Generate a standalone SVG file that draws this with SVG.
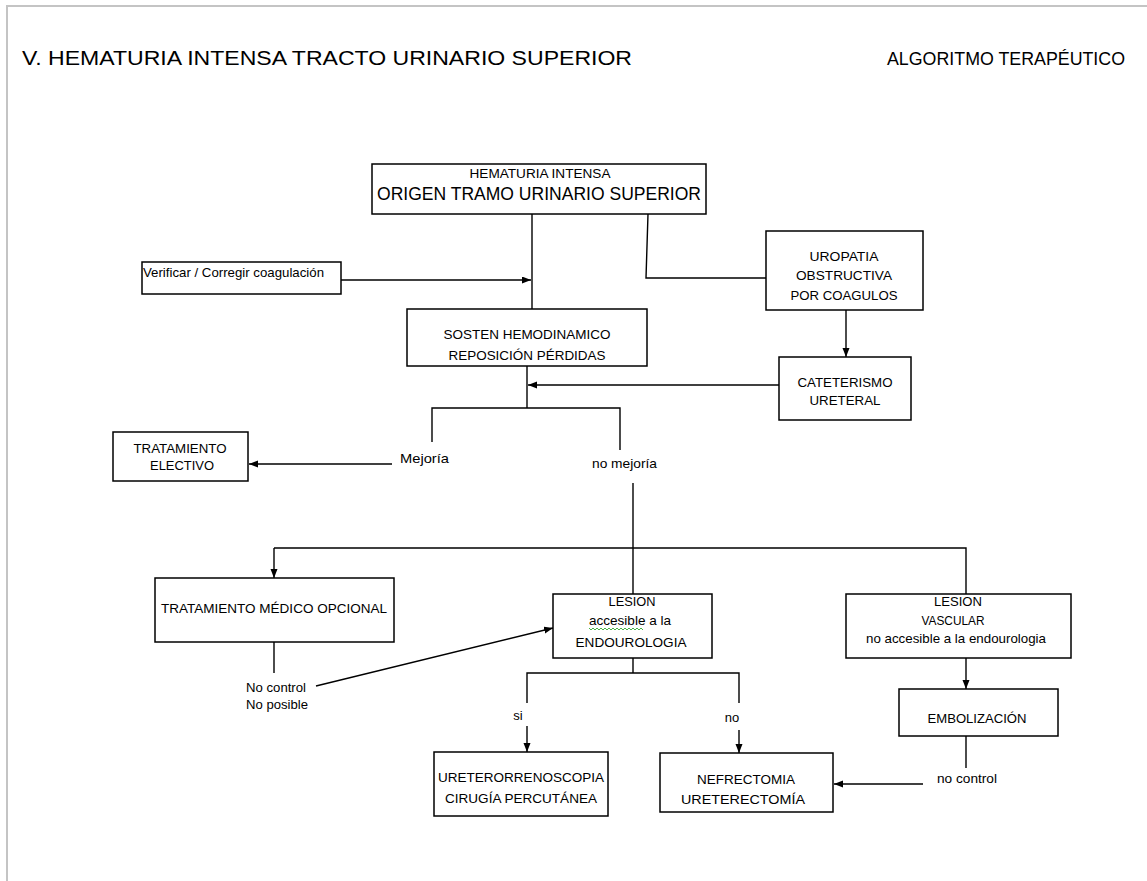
<svg xmlns="http://www.w3.org/2000/svg" width="1147" height="881" viewBox="0 0 1147 881">
<defs>
<marker id="ah" markerUnits="userSpaceOnUse" markerWidth="10" markerHeight="8" refX="9" refY="3.5" orient="auto"><path d="M0,0 L9,3.5 L0,7 z" fill="#000"/></marker>
<style>
.box{fill:#fff;stroke:#000;stroke-width:1.5}
.t{font-family:"Liberation Sans",Arial,sans-serif;font-size:13px;fill:#000}
.c{text-anchor:middle}
.ln{fill:none;stroke:#000;stroke-width:1.4}
.ar{fill:none;stroke:#000;stroke-width:1.4;marker-end:url(#ah)}
.hd{font-family:"Liberation Sans",Arial,sans-serif;font-size:20px;fill:#000}
</style>
</defs>
<rect width="1147" height="881" fill="#fff"/>
<g id="page-border"><path d="M7,881 L7,6 L1147,6" fill="none" stroke="#c4c4c4" stroke-width="2"/></g>
<g id="titles">
<text class="hd" x="22" y="65" textLength="610" lengthAdjust="spacingAndGlyphs">V. HEMATURIA INTENSA TRACTO URINARIO SUPERIOR</text>
<text class="hd" x="887" y="65" style="font-size:18px" textLength="238" lengthAdjust="spacingAndGlyphs">ALGORITMO TERAPÉUTICO</text>
</g>
<g id="connectors">
<path class="ln" d="M532,214 L532,309"/>
<path class="ar" d="M341,280 L531,280"/>
<path class="ln" d="M648,214 L646,278 L766,278"/>
<path class="ar" d="M846,310 L846,357"/>
<path class="ar" d="M779,385 L528,385"/>
<path class="ln" d="M527,366 L527,408"/>
<path class="ln" d="M432,442 L432,408 L620,408 L620,450"/>
<path class="ar" d="M392,464 L249,464"/>
<path class="ln" d="M633,483 L633,594"/>
<path class="ln" d="M966,594 L966,548 L274,548"/>
<path class="ar" d="M274,548 L274,578"/>
<path class="ln" d="M274,642 L274,673"/>
<path class="ar" d="M316,686 L553,628"/>
<path class="ln" d="M633,658 L633,673"/>
<path class="ln" d="M527,703 L527,673 L739,673 L739,703"/>
<path class="ar" d="M527,726 L527,752"/>
<path class="ar" d="M739,730 L739,753"/>
<path class="ar" d="M966,658 L966,689"/>
<path class="ln" d="M966,736 L966,768"/>
<path class="ar" d="M923,784 L834,784"/>
</g>
<g id="n-hematuria">
<rect class="box" x="372" y="164" width="334" height="50"/>
<text class="t c" x="540" y="178" style="font-size:12px" textLength="141" lengthAdjust="spacingAndGlyphs">HEMATURIA INTENSA</text>
<text class="t c" x="539" y="199.5" style="font-size:18px" textLength="324" lengthAdjust="spacingAndGlyphs">ORIGEN TRAMO URINARIO SUPERIOR</text>
</g>
<g id="n-verificar">
<rect class="box" x="142" y="262" width="199" height="32"/>
<text class="t" x="143" y="277" textLength="181" lengthAdjust="spacingAndGlyphs">Verificar / Corregir coagulación</text>
</g>
<g id="n-sosten">
<rect class="box" x="407" y="309" width="240" height="57"/>
<text class="t c" x="527" y="339" textLength="167" lengthAdjust="spacingAndGlyphs">SOSTEN HEMODINAMICO</text>
<text class="t c" x="527" y="360" textLength="157" lengthAdjust="spacingAndGlyphs">REPOSICIÓN PÉRDIDAS</text>
</g>
<g id="n-uropatia">
<rect class="box" x="766" y="231" width="157" height="79"/>
<text class="t c" x="844" y="261" textLength="69" lengthAdjust="spacingAndGlyphs">UROPATIA</text>
<text class="t c" x="844" y="280" textLength="96" lengthAdjust="spacingAndGlyphs">OBSTRUCTIVA</text>
<text class="t c" x="844" y="300" textLength="107" lengthAdjust="spacingAndGlyphs">POR COAGULOS</text>
</g>
<g id="n-cateterismo">
<rect class="box" x="779" y="357" width="132" height="63"/>
<text class="t c" x="845" y="387" textLength="95" lengthAdjust="spacingAndGlyphs">CATETERISMO</text>
<text class="t c" x="845" y="405" textLength="71" lengthAdjust="spacingAndGlyphs">URETERAL</text>
</g>
<g id="n-electivo">
<rect class="box" x="113" y="432" width="135" height="49"/>
<text class="t c" x="180" y="452.5" textLength="93" lengthAdjust="spacingAndGlyphs">TRATAMIENTO</text>
<text class="t c" x="182" y="470" textLength="64" lengthAdjust="spacingAndGlyphs">ELECTIVO</text>
</g>
<g id="labels">
<text class="t" x="400" y="463" textLength="49" lengthAdjust="spacingAndGlyphs">Mejoría</text>
<text class="t" x="592" y="467.5" textLength="65" lengthAdjust="spacingAndGlyphs">no mejoría</text>
<text class="t" x="246" y="691.5" textLength="60" lengthAdjust="spacingAndGlyphs">No control</text>
<text class="t" x="246" y="708.5" textLength="62" lengthAdjust="spacingAndGlyphs">No posible</text>
<text class="t c" x="518" y="719.5">si</text>
<text class="t c" x="732" y="721.5">no</text>
<text class="t c" x="967" y="782.5" textLength="60" lengthAdjust="spacingAndGlyphs">no control</text>
</g>
<g id="n-medico">
<rect class="box" x="155" y="578" width="239" height="64"/>
<text class="t c" x="274" y="612.5" textLength="226" lengthAdjust="spacingAndGlyphs">TRATAMIENTO MÉDICO OPCIONAL</text>
</g>
<g id="n-lesion">
<rect class="box" x="553" y="594" width="159" height="64"/>
<text class="t c" x="632" y="606" textLength="47" lengthAdjust="spacingAndGlyphs">LESION</text>
<text class="t c" x="630" y="625" textLength="82" lengthAdjust="spacingAndGlyphs">accesible a la</text>
<path d="M589,628 l2,2 l2,-2 l2,2 l2,-2 l2,2 l2,-2 l2,2 l2,-2 l2,2 l2,-2 l2,2 l2,-2 l2,2 l2,-2 l2,2 l2,-2 l2,2 l2,-2 l2,2 l2,-2 l2,2 l2,-2 l2,2 l2,-2 l2,2 l2,-2 l2,2" fill="none" stroke="#3a3" stroke-width="0.9"/>
<text class="t c" x="631" y="646.5" textLength="111" lengthAdjust="spacingAndGlyphs">ENDOUROLOGIA</text>
</g>
<g id="n-vascular">
<rect class="box" x="846" y="594" width="225" height="64"/>
<text class="t c" x="958" y="606" textLength="48" lengthAdjust="spacingAndGlyphs">LESION</text>
<text class="t c" x="953" y="624.5" textLength="63" lengthAdjust="spacingAndGlyphs">VASCULAR</text>
<text class="t c" x="956" y="642.5" textLength="180" lengthAdjust="spacingAndGlyphs">no accesible a la endourologia</text>
</g>
<g id="n-embolizacion">
<rect class="box" x="899" y="689" width="159" height="47"/>
<text class="t c" x="977" y="722.5" textLength="99" lengthAdjust="spacingAndGlyphs">EMBOLIZACIÓN</text>
</g>
<g id="n-ureteroscopia">
<rect class="box" x="434" y="752" width="174" height="64"/>
<text class="t c" x="521" y="781.5" textLength="166" lengthAdjust="spacingAndGlyphs">URETERORRENOSCOPIA</text>
<text class="t c" x="521" y="802.5" textLength="152" lengthAdjust="spacingAndGlyphs">CIRUGÍA PERCUTÁNEA</text>
</g>
<g id="n-nefrectomia">
<rect class="box" x="660" y="753" width="173" height="59"/>
<text class="t c" x="746" y="783.5" textLength="98" lengthAdjust="spacingAndGlyphs">NEFRECTOMIA</text>
<text class="t c" x="743" y="803.5" textLength="124" lengthAdjust="spacingAndGlyphs">URETERECTOMÍA</text>
</g>
</svg>
